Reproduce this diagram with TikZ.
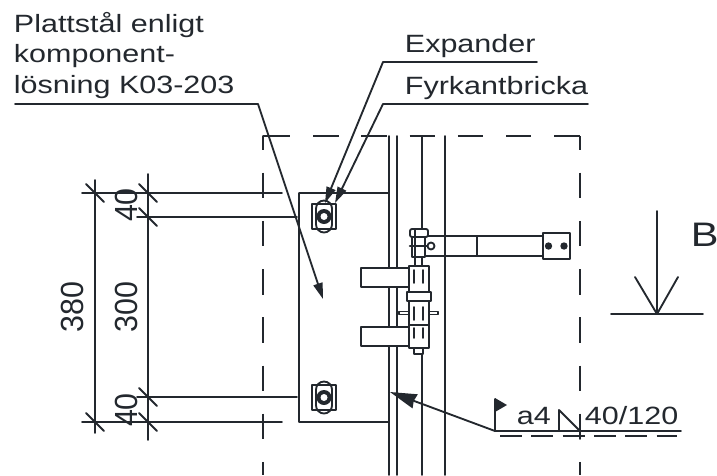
\documentclass[tikz,border=0pt]{standalone}
\usepackage{fontspec}
\setmainfont[FakeStretch=1.22]{Liberation Sans}
\newfontfamily\dimfont[FakeStretch=.95]{Liberation Sans}
\usetikzlibrary{arrows.meta}
\definecolor{inkcol}{HTML}{23282E}
\tikzset{
	lbl/.style={anchor=base west,inner sep=0pt,text=inkcol,font=\fontsize{18.75}{20}\selectfont},
	dimlbl/.style={rotate=90,inner sep=0pt,text=inkcol,font=\dimfont\fontsize{24}{26}\selectfont},
	hidden/.style={line cap=butt,dash pattern=on 19.1pt off 17.05pt},
	weldhead/.style={-{Stealth[length=20pt,width=11pt,inset=1pt]}},
	leaderhead/.style={-{Stealth[length=12pt,width=7pt,inset=0pt]}}
}
\begin{document}
\begin{tikzpicture}[line join=round, line cap=round, x=0.75pt, y=-0.75pt, line width=1.4pt, color=inkcol]
	\useasboundingbox (0,0) rectangle (717,475);
	\draw[hidden,dash phase=8.6pt] (263,136)--(263,475);
	\draw[hidden,dash phase=8.6pt] (580,136)--(580,475);
	\draw[hidden] (265,136)--(580,136);
	\draw (263,136)--(265,136);
	\foreach \x in {389,397,422,445}
	\draw (\x,136)--(\x,475);
	\draw (299,193)--(389,193) (299,193)--(299,422)--(389,422);
	\draw (82,193)--(282,193) (82,422)--(282,422);
	\draw (137,217)--(297,217) (137,397)--(297,397);
	\draw (95,180)--(95,433) (148,174)--(148,440);
	\foreach \x/\y in {95/193,148/193,148/217,148/397,148/422,95/422}
	\draw[shift={(\x,\y)}] (-9,-9)--(9,9);
	\foreach \y in {216.5,397.5}{
		\draw (312,\y-12.5) rectangle (336,\y+12.5);
		\draw[rounded corners=6pt] (316,\y-16) rectangle (332,\y+16);
		\fill (324,\y) circle[radius=7.5];
		\fill[white] (324,\y) circle[radius=3.5];
	}
	\draw[fill=white] (361,268) rectangle (409,287);
	\draw[fill=white] (361,327) rectangle (409,346);
	\draw (412,236) rectangle (543,256);
	\draw (477,236)--(477,256);
	\draw[fill=white] (412,237) rectangle (425,257);
	\draw[fill=white,rounded corners=1.5pt] (410,229) rectangle (428,237);
	\draw (415,229)--(415,266);
	\draw[line width=2pt] (410,246)--(428,246);
	\draw[fill=white] (431,246) circle[radius=3.5];
	\draw[line width=1.7pt] (543,233) rectangle (570,259);
	\fill (548.5,246) circle[radius=3.7] (564,246) circle[radius=3.7];
	\draw[fill=white] (414,346) rectangle (423,354);
	\draw[fill=white] (399,311.5) rectangle (438,314.5);
	\draw[line width=1.6pt,fill=white] (409,266) rectangle (429,348);
	\draw (409,325)--(429,325);
	\draw[line width=1.7pt,fill=white] (407,292) rectangle (431,301);
	\foreach \x in {414,423}{
		\draw (\x,270)--(\x,283) (\x,307)--(\x,320) (\x,328)--(\x,338);
	}
	\node[lbl] (plate1) at (13,32) {Plattstål enligt};
	\node[lbl] (plate2) at (13,62) {komponent-};
	\node[lbl] (plate3) at (13,93) {lösning K03-203};
	\node[lbl] (expander) at (404,52) {Expander};
	\node[lbl] (washer) at (404,94) {Fyrkantbricka};
	\coordinate (platetip) at (323,299);
	\coordinate (expandertip) at (325,203);
	\coordinate (washertip) at (335,203);
	\draw[leaderhead] (15,104)--(258,104)--(platetip);
	\draw[leaderhead] (537,62)--(383,62)--(expandertip);
	\draw[leaderhead] (588,104)--(383,104)--(washertip);
	\node[dimlbl] (d380) at (72.5,307) {380};
	\node[dimlbl] (d300) at (126,307) {300};
	\node[dimlbl] (d40a) at (126,205) {40};
	\node[dimlbl] (d40b) at (126,410) {40};
	\coordinate (weldtip) at (390,392);
	\coordinate (weldknee) at (495,431);
	\draw[weldhead] (weldknee)--(weldtip);
	\draw (weldknee)--(681,431);
	\draw[line cap=butt,dash pattern=on 16.5pt off 7pt] (500,436)--(677,436);
	\draw (weldknee)--(495,399);
	\fill (495,398)--(507,405)--(495,412)--cycle;
	\draw (559,431)--(559,410)--(580,431);
	\draw (580,415)--(580,439);
	\node[lbl] (weldsize) at (516,424) {a4};
	\node[lbl] (weldlen) at (584,424) {40/120};
	\coordinate (viewtop) at (657,211);
	\coordinate (viewtip) at (657,314);
	\draw (viewtop)--(viewtip);
	\draw (635,277)--(viewtip)--(678,277);
	\draw (611,314)--(703,314);
	\node[lbl,font=\fontsize{25.5}{27}\selectfont] (view) at (690,246) {B};
\end{tikzpicture}
\end{document}
